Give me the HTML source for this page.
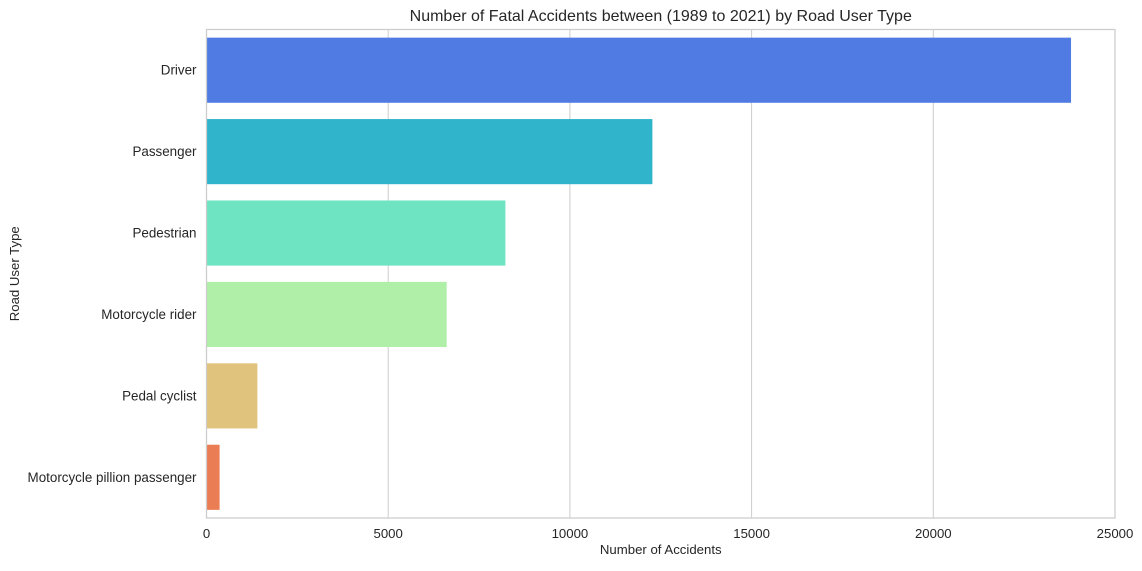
<!DOCTYPE html>
<html><head><meta charset="utf-8"><style>
body{margin:0;background:#fff;font-family:"Liberation Sans",sans-serif}
svg text{font-family:"Liberation Sans",sans-serif;fill:#262626}
</style></head><body>
<svg id="c" width="1142" height="566">
<rect x="0" y="0" width="1142" height="566" fill="#fff"/>
<g id="grid"></g><g id="bars"></g><g id="axes"></g>
</svg>
<script>
const categories=["Driver","Passenger","Pedestrian","Motorcycle rider","Pedal cyclist","Motorcycle pillion passenger"];
const values=[23790,12270,8225,6610,1400,360];
const colors=["#4f7be3","#2fb4cb","#6ee4c2","#b0efa8","#e0c37d","#ea7d53"];
const xTicks=[0,5000,10000,15000,20000,25000];
const L=206.5,R=1115,T=29.5,B=518,xmax=25000;
const ns="http://www.w3.org/2000/svg";
const x=v=>L+(R-L)*v/xmax;
const band=(B-T)/categories.length;
const y=i=>T+band*i;
function mk(tag,attrs,parent,txt){const e=document.createElementNS(ns,tag);for(const k in attrs)e.setAttribute(k,attrs[k]);if(txt!==undefined)e.textContent=txt;document.getElementById(parent).appendChild(e);return e;}
xTicks.forEach(t=>{
 const g=mk('line',{x1:x(t),x2:x(t),y1:T,y2:B,stroke:'#cccccc','stroke-width':1},'grid');
 
 
 const l=mk('text',{x:x(t),y:B+20,'text-anchor':'middle','font-size':13.2},'axes',t);
 
 
});
categories.forEach((c,i)=>{
 const bh=band*0.8;
 const r=mk('rect',{x:x(0),y:y(i)+band*0.1,width:x(values[i])-x(0),height:bh,fill:colors[i]},'bars');
 
 
 const l=mk('text',{x:L-10,y:y(i)+band/2+4.5,'text-anchor':'end','font-size':13.4},'axes',c);
 
 
});
const fr=mk('rect',{x:L,y:T,width:R-L,height:B-T,fill:'none',stroke:'#cccccc','stroke-width':1.25},'axes');


const tt=mk('text',{x:(L+R)/2,y:21,'text-anchor':'middle','font-size':16},'axes','Number of Fatal Accidents between (1989 to 2021) by Road User Type');


const xt=mk('text',{x:(L+R)/2,y:554,'text-anchor':'middle','font-size':13.2},'axes','Number of Accidents');


const yt=mk('text',{x:19,y:(T+B)/2,'text-anchor':'middle','font-size':13.2,transform:`rotate(-90 19 ${(T+B)/2})`},'axes','Road User Type');


</script>
</body></html>
